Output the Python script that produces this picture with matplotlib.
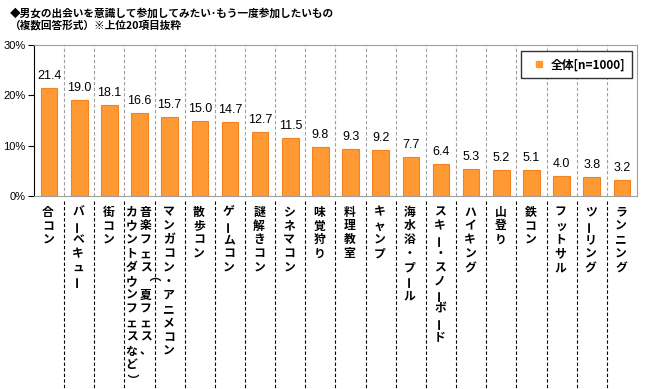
import matplotlib
matplotlib.use("Agg")
import matplotlib.pyplot as plt
from matplotlib.lines import Line2D
from matplotlib.ticker import FuncFormatter

plt.rcParams['font.family'] = ['Liberation Sans', 'Noto Sans CJK JP', 'DejaVu Sans']

# データ（上位20項目）
categories = [
    "合コン", "バーベキュー", "街コン",
    "音楽フェス（夏フェス、カウントダウンフェスなど）",
    "マンガコン・アニメコン", "散歩コン", "ゲームコン", "謎解きコン",
    "シネマコン", "味覚狩り", "料理教室", "キャンプ", "海水浴・プール",
    "スキー・スノーボード", "ハイキング", "山登り", "鉄コン",
    "フットサル", "ツーリング", "ランニング",
]
values = [21.4, 19.0, 18.1, 16.6, 15.7, 15.0, 14.7, 12.7, 11.5, 9.8,
          9.3, 9.2, 7.7, 6.4, 5.3, 5.2, 5.1, 4.0, 3.8, 3.2]
series_name = "全体[n=1000]"
yticks = [0, 10, 20, 30]

title_lines = ["◆男女の出会いを意識して参加してみたい･もう一度参加したいもの",
               "（複数回答形式）※上位20項目抜粋"]

BAR = '#FF9933'
EDGE = '#F58220'
JP = ['Noto Sans CJK JP', 'DejaVu Sans']

fig = plt.figure(figsize=(6.5, 3.89), dpi=100)
ax = fig.add_axes([0.0523, 0.496, 0.9277, 0.388])

x = list(range(len(categories)))
ax.bar(x, values, width=0.55, color=BAR, edgecolor=EDGE, linewidth=0.8, zorder=3)

for xi, v in zip(x, values):
    ax.annotate(f"{v:.1f}", xy=(xi, v), xytext=(0, 6), textcoords='offset pixels',
                ha='center', va='bottom', fontsize=9, color='black')

ax.set_xlim(-0.5, len(categories) - 0.5)
ax.set_ylim(0, 30)
ax.set_yticks(yticks)
ax.yaxis.set_major_formatter(FuncFormatter(lambda v, p: f"{int(v)}%"))
ax.tick_params(axis='y', labelsize=8, length=4, direction='out', color='black', pad=2)
ax.set_xticks([])

# 区切りの点線（グラフ内）
for i in range(len(categories) - 1):
    ax.axvline(i + 0.5, color='#A0A0A0', linestyle=(0, (3, 2)), linewidth=0.8, zorder=1)

# ラベル欄の区切り線
for i in range(len(categories) - 1):
    ax.plot([i + 0.5, i + 0.5], [-0.03, -1.27], transform=ax.get_xaxis_transform(),
            color='black', linestyle=(0, (3, 2)), linewidth=0.8, clip_on=False)

for side in ['top', 'right', 'bottom']:
    ax.spines[side].set_color('#A0A0A0')
ax.spines['left'].set_color('black')


def vertical_label(xpos, text, dx=0):
    pitch = 13.9
    for k, ch in enumerate(text):
        rot = 0
        if ch == 'ー':
            rot = 90
        elif ch in '（）':
            rot = -90
        ax.annotate(ch, xy=(xpos, 0), xycoords=('data', 'axes fraction'),
                    xytext=(dx, -16 - k * pitch), textcoords='offset pixels',
                    ha='center', va='center', rotation=rot,
                    fontsize=8.5, fontweight='bold', family=JP)


for xi, cat in zip(x, categories):
    if '、' in cat and len(cat) > 14:
        first, second = cat.split('、')
        vertical_label(xi, first + '、', dx=6)
        vertical_label(xi, second, dx=-8)
    else:
        vertical_label(xi, cat, dx=-1)

handle = Line2D([], [], marker='s', linestyle='', color=BAR, markersize=4)
leg = ax.legend([handle], [series_name], loc='upper right',
                bbox_to_anchor=(0.992, 0.96), borderaxespad=0,
                handlelength=1.8, handletextpad=0.1, borderpad=0.6,
                fancybox=False, framealpha=1,
                prop={'family': JP, 'weight': 'bold', 'size': 8.5})
leg.get_frame().set_edgecolor('#333333')
leg.get_frame().set_linewidth(1.0)

fig.text(0.015, 0.967, title_lines[0], fontsize=7.7, fontweight='bold', family=JP,
         ha='left', va='center')
fig.text(0.015, 0.935, title_lines[1], fontsize=7.7, fontweight='bold', family=JP,
         ha='left', va='center')

fig.savefig('out.png', dpi=100)
